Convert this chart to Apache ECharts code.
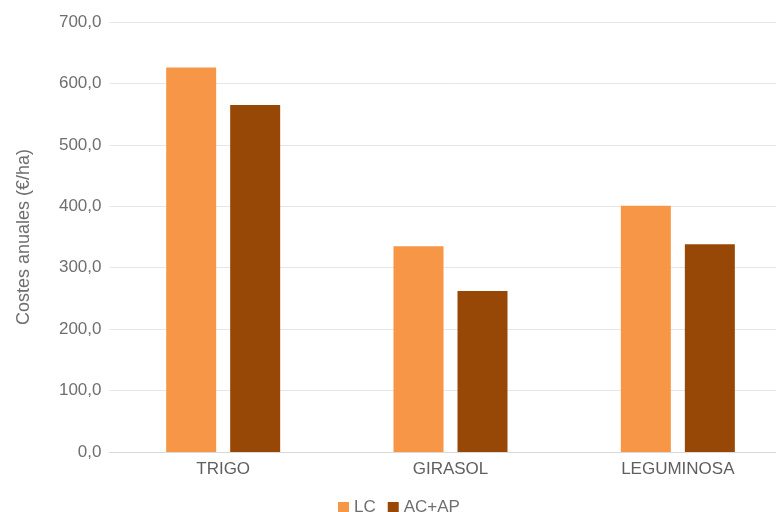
<!DOCTYPE html>
<html>
<head>
<meta charset="utf-8">
<script src="https://cdn.jsdelivr.net/npm/echarts@6/dist/echarts.min.js"></script>
<style>
html,body{margin:0;padding:0;background:#fff;overflow:hidden;width:776px;height:512px;}
#c{width:800px;height:512px;}
</style>
</head>
<body>
<div id="c"></div>
<script>
var categories = ['TRIGO', 'GIRASOL', 'LEGUMINOSA'];
var seriesNames = ['LC', 'AC+AP'];
var lcValues = [626, 335, 401];
var acapValues = [565, 262, 338];
var yTicks = [0, 100, 200, 300, 400, 500, 600, 700];

var FONT = '"Liberation Sans", Arial, sans-serif';
var chart = echarts.init(document.getElementById('c'), null, {renderer: 'canvas'});
chart.setOption({
  animation: false,
  backgroundColor: '#ffffff',
  grid: {left: 109.5, top: 22, width: 682, height: 430, containLabel: false},
  legend: {
    data: seriesNames,
    left: 333, top: 494,
    itemWidth: 11, itemHeight: 11, itemGap: 12,
    icon: 'rect',
    textStyle: {fontFamily: FONT, fontSize: 17, color: '#6f6f6f'}
  },
  xAxis: {
    type: 'category',
    data: categories,
    axisLine: {lineStyle: {color: '#d9d9d9', width: 1}},
    axisTick: {show: false},
    axisLabel: {fontFamily: FONT, fontSize: 17, color: '#5f5f5f', margin: 9}
  },
  yAxis: {
    type: 'value',
    min: yTicks[0], max: yTicks[yTicks.length - 1], interval: 100,
    name: 'Costes anuales (€/ha)',
    nameLocation: 'middle',
    nameGap: 76,
    nameTextStyle: {fontFamily: FONT, fontSize: 18, color: '#6f6f6f'},
    axisLine: {show: false},
    axisTick: {show: false},
    splitLine: {lineStyle: {color: '#e6e6e6', width: 1}},
    axisLabel: {
      fontFamily: FONT, fontSize: 17, color: '#6f6f6f', margin: 8,
      formatter: function (v) { return v.toFixed(1).replace('.', ','); }
    }
  },
  series: [
    {name: seriesNames[0], type: 'bar', data: lcValues, barWidth: 50, barGap: '28%',
     itemStyle: {color: '#F79646'}},
    {name: seriesNames[1], type: 'bar', data: acapValues, barWidth: 50, barGap: '28%',
     itemStyle: {color: '#974706'}}
  ]
});
</script>
</body>
</html>
